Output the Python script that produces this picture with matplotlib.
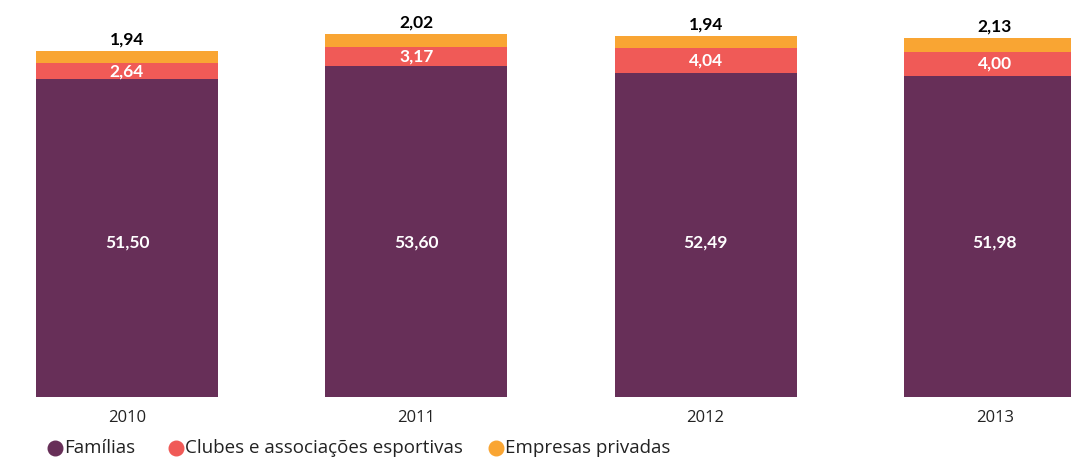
import numpy as np
import matplotlib.pyplot as plt
from matplotlib.lines import Line2D

years = ['2010', '2011', '2012', '2013']
familias = [51.50, 53.60, 52.49, 51.98]
clubes = [2.64, 3.17, 4.04, 4.00]
empresas = [1.94, 2.02, 1.94, 2.13]

series_names = ['Famílias', 'Clubes e associações esportivas', 'Empresas privadas']
colors = ['#672F58', '#F05A57', '#F9A533']

plt.rcParams['font.family'] = ['Open Sans', 'DejaVu Sans']
bold_font = ['Lato', 'DejaVu Sans']

fig = plt.figure(figsize=(10.71, 4.59), dpi=100)
# axes spans whole width; baseline at y=397px
ax = fig.add_axes([0, 1 - 397/459, 1, 397/459])

x = np.arange(len(years))
w = 0.629
fam = np.array(familias)
clu = np.array(clubes)
emp = np.array(empresas)

ax.bar(x, fam, w, color=colors[0])
ax.bar(x, clu, w, bottom=fam, color=colors[1])
ax.bar(x, emp, w, bottom=fam + clu, color=colors[2])

def fmt(v):
    return f'{v:.2f}'.replace('.', ',')

for i in range(len(years)):
    # label for Famílias sits at the same height on every bar
    ax.text(x[i], 25, fmt(fam[i]), ha='center', va='center', family=bold_font,
            color='white', fontsize=12.5, fontweight='bold')
    ax.text(x[i], fam[i] + clu[i] / 2, fmt(clu[i]), ha='center', va='center', family=bold_font,
            color='white', fontsize=12.5, fontweight='bold')
    ax.text(x[i], fam[i] + clu[i] + emp[i] + 0.6, fmt(emp[i]), ha='center', va='bottom',
            family=bold_font, color='black', fontsize=12.5, fontweight='bold')

ax.set_xlim(-127/289.3, (1071-127)/289.3)
ax.set_ylim(0, 397/6.17)
ax.axis('off')

for i, y in enumerate(years):
    ax.text(x[i], -2.1, y, ha='center', va='top', fontsize=12, color='#222222')

# legend drawn by hand to match spacing
leg_y = 1 - 448/459
marker_x = [55/1071, 176/1071, 496/1071]
for c, name, mx in zip(colors, series_names, marker_x):
    fig.add_artist(Line2D([mx], [leg_y], marker='o', linestyle='', markersize=10.5,
                          markerfacecolor=c, markeredgecolor=c, transform=fig.transFigure))
    fig.text(mx + 9/1071, leg_y, name, ha='left', va='center', fontsize=13.5, color='#222222')

fig.savefig('out.png', dpi=100)
